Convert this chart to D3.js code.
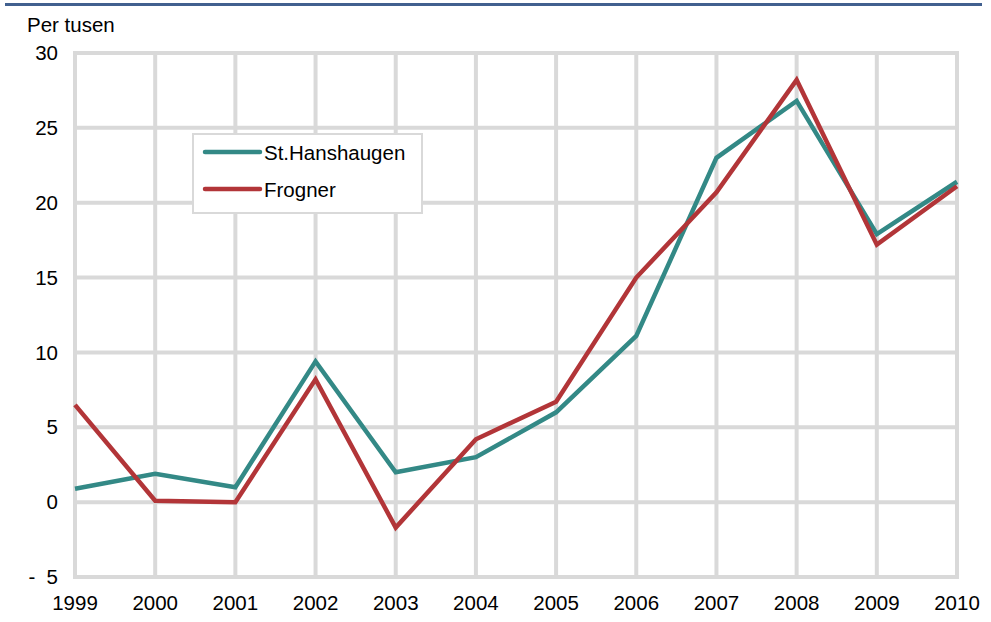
<!DOCTYPE html>
<html><head><meta charset="utf-8">
<script src="https://cdn.jsdelivr.net/npm/d3@7"></script>
<style>body{margin:0;background:#fff}svg{display:block;font-family:"Liberation Sans",Arial,sans-serif}</style>
</head><body>
<svg id="c" width="991" height="622"></svg>
<script>
const years = [1999,2000,2001,2002,2003,2004,2005,2006,2007,2008,2009,2010];
const stHanshaugen = [0.9,1.9,1.0,9.4,2.0,3.0,6.0,11.1,23.0,26.8,17.9,21.4];
const frogner = [6.5,0.1,0.0,8.2,-1.7,4.2,6.7,15.0,20.7,28.2,17.2,21.1];
const yTicks = [-5,0,5,10,15,20,25,30];
const seriesNames = ["St.Hanshaugen","Frogner"];
const colors = ["#338986","#b23538"];

const svg = d3.select("#c");
const L=75,R=957,T=53,B=577;
const x = d3.scalePoint().domain(years).range([L,R]);
const y = d3.scaleLinear().domain([-5,30]).range([B,T]);
const FS = 20.5;

svg.append("line").attr("x1",5).attr("x2",982).attr("y1",4.5).attr("y2",4.5)
  .attr("stroke","#41608f").attr("stroke-width",3);

svg.append("text").attr("x",27).attr("y",32).attr("font-size",FS).attr("fill","#000").text("Per tusen");

const grid = svg.append("g").attr("stroke","#d9d9d9").attr("stroke-width",4);
grid.selectAll("line.h").data(yTicks).join("line").attr("class","h")
  .attr("x1",L).attr("x2",R).attr("y1",d=>y(d)).attr("y2",d=>y(d));
grid.selectAll("line.v").data(years).join("line").attr("class","v")
  .attr("y1",T).attr("y2",B).attr("x1",d=>x(d)).attr("x2",d=>x(d));
grid.append("rect").attr("x",L).attr("y",T).attr("width",R-L).attr("height",B-T).attr("fill","none");

svg.append("g").selectAll("text").data(yTicks).join("text")
  .attr("x",58).attr("y",d=>y(d)).attr("dy","0.35em").attr("text-anchor","end")
  .attr("font-size",FS).text(d=>d<0?"-\u00a0\u00a0"+Math.abs(d):d);

svg.append("g").selectAll("text").data(years).join("text")
  .attr("x",d=>x(d)).attr("y",610).attr("text-anchor","middle")
  .attr("font-size",FS).text(d=>d);

const line = d3.line().x((d,i)=>x(years[i])).y(d=>y(d));
[stHanshaugen,frogner].forEach((s,k)=>{
  svg.append("path").attr("d",line(s)).attr("fill","none")
    .attr("stroke",colors[k]).attr("stroke-width",4.5).attr("stroke-linejoin","miter");
});

const lg = svg.append("g");
lg.append("rect").attr("x",193).attr("y",134).attr("width",229).attr("height",79)
  .attr("fill","#fff").attr("stroke","#d9d9d9").attr("stroke-width",2);
seriesNames.forEach((n,k)=>{
  const yy = 152 + k*37;
  lg.append("line").attr("x1",205).attr("x2",260).attr("y1",yy).attr("y2",yy)
    .attr("stroke",colors[k]).attr("stroke-width",4.5).attr("stroke-linecap","round");
  lg.append("text").attr("x",264).attr("y",yy+1).attr("dy","0.35em").attr("font-size",FS).text(n);
});
</script>
</body></html>
